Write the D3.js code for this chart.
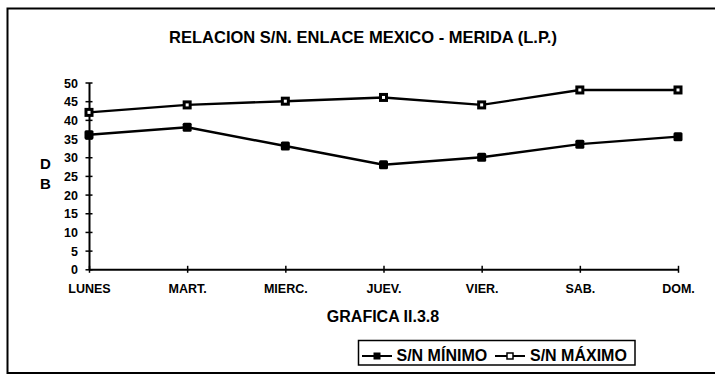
<!DOCTYPE html>
<html>
<head>
<meta charset="utf-8">
<script src="https://cdn.jsdelivr.net/npm/d3@7/dist/d3.min.js"></script>
<style>
  html, body { margin: 0; padding: 0; background: #fff; }
  svg { display: block; }
  text { font-family: "Liberation Sans", Arial, sans-serif; font-weight: bold; fill: #000; }
</style>
</head>
<body>
<svg id="chart" width="715" height="375"></svg>
<script>
// Days of the week (categories)
const days = ["LUNES", "MART.", "MIERC.", "JUEV.", "VIER.", "SAB.", "DOM."];
// Signal-to-noise ratio, dB
const snMinimo = [36, 38, 33, 28, 30, 33.5, 35.5];
const snMaximo = [42, 44, 45, 46, 44, 48, 48];
// Y axis ticks
const yTicks = [0, 5, 10, 15, 20, 25, 30, 35, 40, 45, 50];

const titleText = "RELACION S/N. ENLACE MEXICO - MERIDA (L.P.)";
const captionText = "GRAFICA II.3.8";
const legendLabels = ["S/N MÍNIMO", "S/N MÁXIMO"];

const svg = d3.select("#chart");
const ink = "#000";

// Frame around the figure
svg.append("rect")
  .attr("x", 7.5).attr("y", 8.5)
  .attr("width", 720).attr("height", 364.5)
  .attr("fill", "none").attr("stroke", ink).attr("stroke-width", 2);

const x = d3.scalePoint().domain(days).range([89, 678]);
const y = d3.scaleLinear().domain([0, 50]).range([269.3, 82.5]);

// Title
svg.append("text")
  .attr("x", 363).attr("y", 43)
  .attr("text-anchor", "middle")
  .style("font-size", "16.5px")
  .text(titleText);

// Y axis
const yAxis = d3.axisLeft(y).tickValues(yTicks).tickSize(0).tickPadding(11);
const gy = svg.append("g").attr("transform", "translate(89,0)").call(yAxis);
gy.select(".domain").attr("stroke", ink).attr("stroke-width", 2);
gy.selectAll(".tick text").style("font-size", "12.5px").attr("fill", ink).attr("dy", "0.36em");
gy.selectAll(".tick").append("line")
  .attr("x1", -3.5).attr("x2", 3.5)
  .attr("stroke", ink).attr("stroke-width", 1.5);

// X axis
const xAxis = d3.axisBottom(x).tickSize(0).tickPadding(15);
const gx = svg.append("g").attr("transform", "translate(0,269.3)").call(xAxis);
gx.select(".domain").attr("stroke", ink).attr("stroke-width", 2);
gx.selectAll(".tick text").style("font-size", "12.5px").attr("fill", ink);
gx.selectAll(".tick").append("line")
  .attr("y1", -3.5).attr("y2", 3.5)
  .attr("stroke", ink).attr("stroke-width", 1.5);

// Y axis title (stacked letters)
svg.append("text").attr("x", 45.5).attr("y", 168.5)
  .attr("text-anchor", "middle").style("font-size", "15px").text("D");
svg.append("text").attr("x", 45.5).attr("y", 188.5)
  .attr("text-anchor", "middle").style("font-size", "15px").text("B");

// Series lines
const line = d3.line()
  .x((d, i) => x(days[i]))
  .y(d => y(d));

const series = [
  { values: snMinimo, hollow: false },
  { values: snMaximo, hollow: true }
];

series.forEach(s => {
  svg.append("path")
    .datum(s.values)
    .attr("d", line)
    .attr("fill", "none")
    .attr("stroke", ink)
    .attr("stroke-width", 2.4);
});

function marker(g, cx, cy, hollow) {
  if (hollow) {
    g.append("rect")
      .attr("x", cx - 3).attr("y", cy - 3)
      .attr("width", 6).attr("height", 6)
      .attr("fill", "#fff").attr("stroke", ink).attr("stroke-width", 3);
  } else {
    g.append("rect")
      .attr("x", cx - 4.5).attr("y", cy - 4.5)
      .attr("width", 9).attr("height", 9)
      .attr("rx", 1.5)
      .attr("fill", ink);
  }
}

series.forEach(s => {
  const g = svg.append("g");
  s.values.forEach((v, i) => marker(g, x(days[i]), y(v), s.hollow));
});

// Caption
svg.append("text")
  .attr("x", 383).attr("y", 321.5)
  .attr("text-anchor", "middle")
  .style("font-size", "16px")
  .text(captionText);

// Legend
const lg = svg.append("g");
lg.append("rect")
  .attr("x", 358.5).attr("y", 340.5)
  .attr("width", 276.5).attr("height", 24.5)
  .attr("fill", "none").attr("stroke", ink).attr("stroke-width", 1.5);

const legendItems = [
  { x0: 362, label: legendLabels[0], tx: 396.5, hollow: false },
  { x0: 495, label: legendLabels[1], tx: 530, hollow: true }
];
legendItems.forEach(it => {
  lg.append("line")
    .attr("x1", it.x0).attr("x2", it.x0 + 30)
    .attr("y1", 356).attr("y2", 356)
    .attr("stroke", ink).attr("stroke-width", 2);
  if (it.hollow) {
    lg.append("rect").attr("x", it.x0 + 12).attr("y", 353)
      .attr("width", 6).attr("height", 6)
      .attr("fill", "#fff").attr("stroke", ink).attr("stroke-width", 1.5);
  } else {
    lg.append("rect").attr("x", it.x0 + 11.5).attr("y", 352.5)
      .attr("width", 7).attr("height", 7).attr("fill", ink);
  }
  lg.append("text")
    .attr("x", it.tx).attr("y", 360.5)
    .style("font-size", "16px")
    .text(it.label);
});
</script>
</body>
</html>
